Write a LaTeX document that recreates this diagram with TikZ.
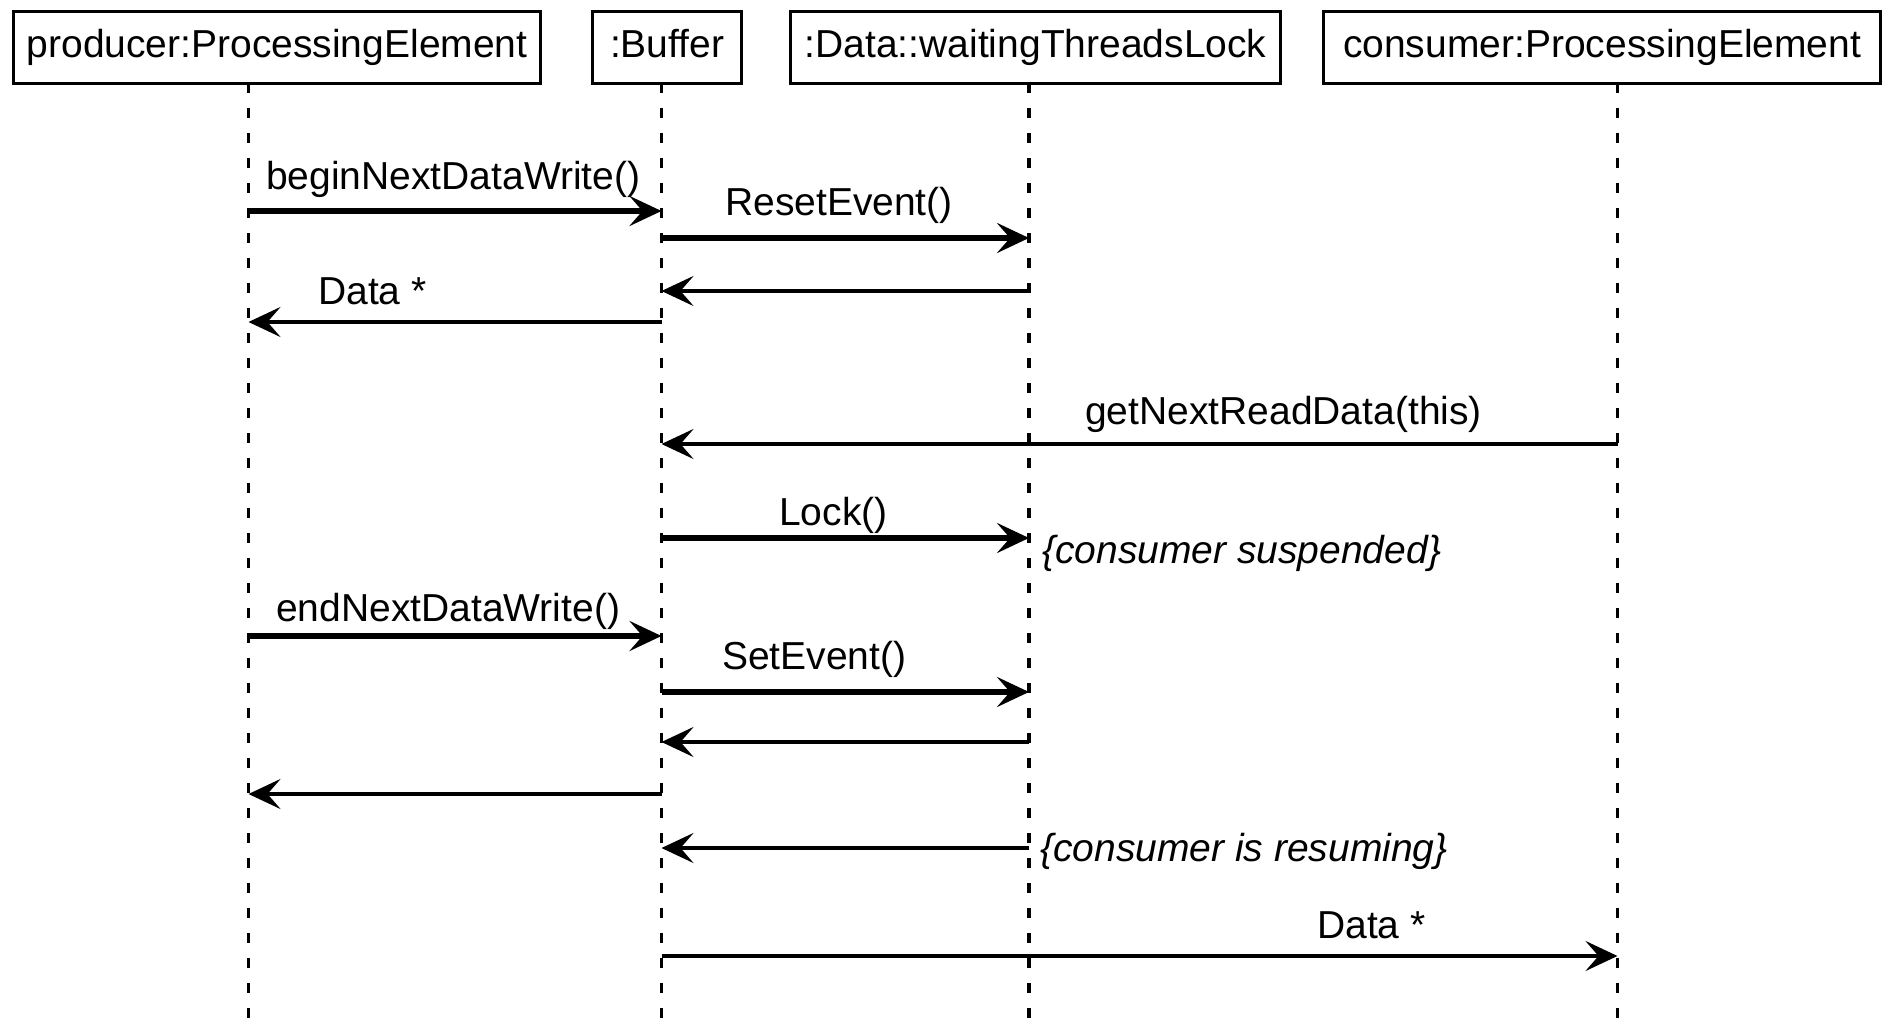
\documentclass[tikz,border=0pt]{standalone}
\usepackage{fontspec}
\setmainfont{Liberation Sans}
\usetikzlibrary{arrows.meta}
\begin{document}
\begin{tikzpicture}[x=1pt,y=-1pt,
  objbox/.style={draw,line width=3.2pt,minimum height=72pt,inner sep=0pt,text height=28.5pt,text depth=8.2pt,anchor=north west,font=\fontsize{39}{47}\selectfont},
  lifeline/.style={line width=3.4pt,dash pattern=on 10pt off 15pt},
  call/.style={line width=5.5pt,-{Stealth[length=32pt,width=30pt,inset=13pt]}},
  reply/.style={line width=3.5pt,-{Stealth[length=32pt,width=30pt,inset=13pt]}},
  msg/.style={anchor=base west,inner sep=0pt,font=\fontsize{39}{47}\selectfont},
  note/.style={msg,font=\fontsize{39}{47}\selectfont\itshape}]
\useasboundingbox (0,0) rectangle (1883,1028);

% object boxes
\node[objbox,minimum width=527pt] (prod) at (12,10) {producer:ProcessingElement};
\node[objbox,minimum width=149pt] (buf) at (591,10) {:Buffer};
\node[objbox,minimum width=490pt] (lock) at (789,10) {:Data::waitingThreadsLock};
\node[objbox,minimum width=557pt] (cons) at (1322,10) {consumer:ProcessingElement};

% lifeline ends
\coordinate (P0) at (248.5,83);  \coordinate (P1) at (248.5,1028);
\coordinate (B0) at (661.5,83);  \coordinate (B1) at (661.5,1028);
\coordinate (L0) at (1029,83);   \coordinate (L1) at (1029,1028);
\coordinate (C0) at (1617.5,83); \coordinate (C1) at (1617.5,1028);
\draw[lifeline] (P0) -- (P1);
\draw[lifeline] (B0) -- (B1);
\draw[lifeline] (L0) -- (L1);
\draw[lifeline] (C0) -- (C1);

% message end points on the lifelines
\foreach \n/\y in {1/211,2/238,3/291,4/322,5/444,6/538,7/636,8/692,9/742,10/794,11/848,12/956}{
  \coordinate (p\n) at (248.5,\y);
  \coordinate (b\n) at (661.5,\y);
  \coordinate (l\n) at (1029,\y);
  \coordinate (c\n) at (1617.5,\y);
}

% messages
\draw[call] (p1) -- (b1);
\node[msg] (m1) at (266,189) {beginNextDataWrite()};
\draw[call] (b2) -- (l2);
\node[msg] (m2) at (725,215) {ResetEvent()};
\draw[reply] (l3) -- (b3);
\draw[reply] (b4) -- (p4);
\node[msg] (m4) at (318,304) {Data *};
\draw[reply] (c5) -- (b5);
\node[msg] (m5) at (1085,424) {getNextReadData(this)};
\draw[call] (b6) -- (l6);
\node[msg] (m6) at (779,525) {Lock()};
\node[note] (n6) at (1042,563) {\{consumer suspended\}};
\draw[call] (p7) -- (b7);
\node[msg] (m7) at (276,621) {endNextDataWrite()};
\draw[call] (b8) -- (l8);
\node[msg] (m8) at (722,669) {SetEvent()};
\draw[reply] (l9) -- (b9);
\draw[reply] (b10) -- (p10);
\draw[reply] (l11) -- (b11);
\node[note] (n11) at (1040,861) {\{consumer is resuming\}};
\draw[reply] (b12) -- (c12);
\node[msg] (m12) at (1317,938) {Data *};
\end{tikzpicture}
\end{document}
